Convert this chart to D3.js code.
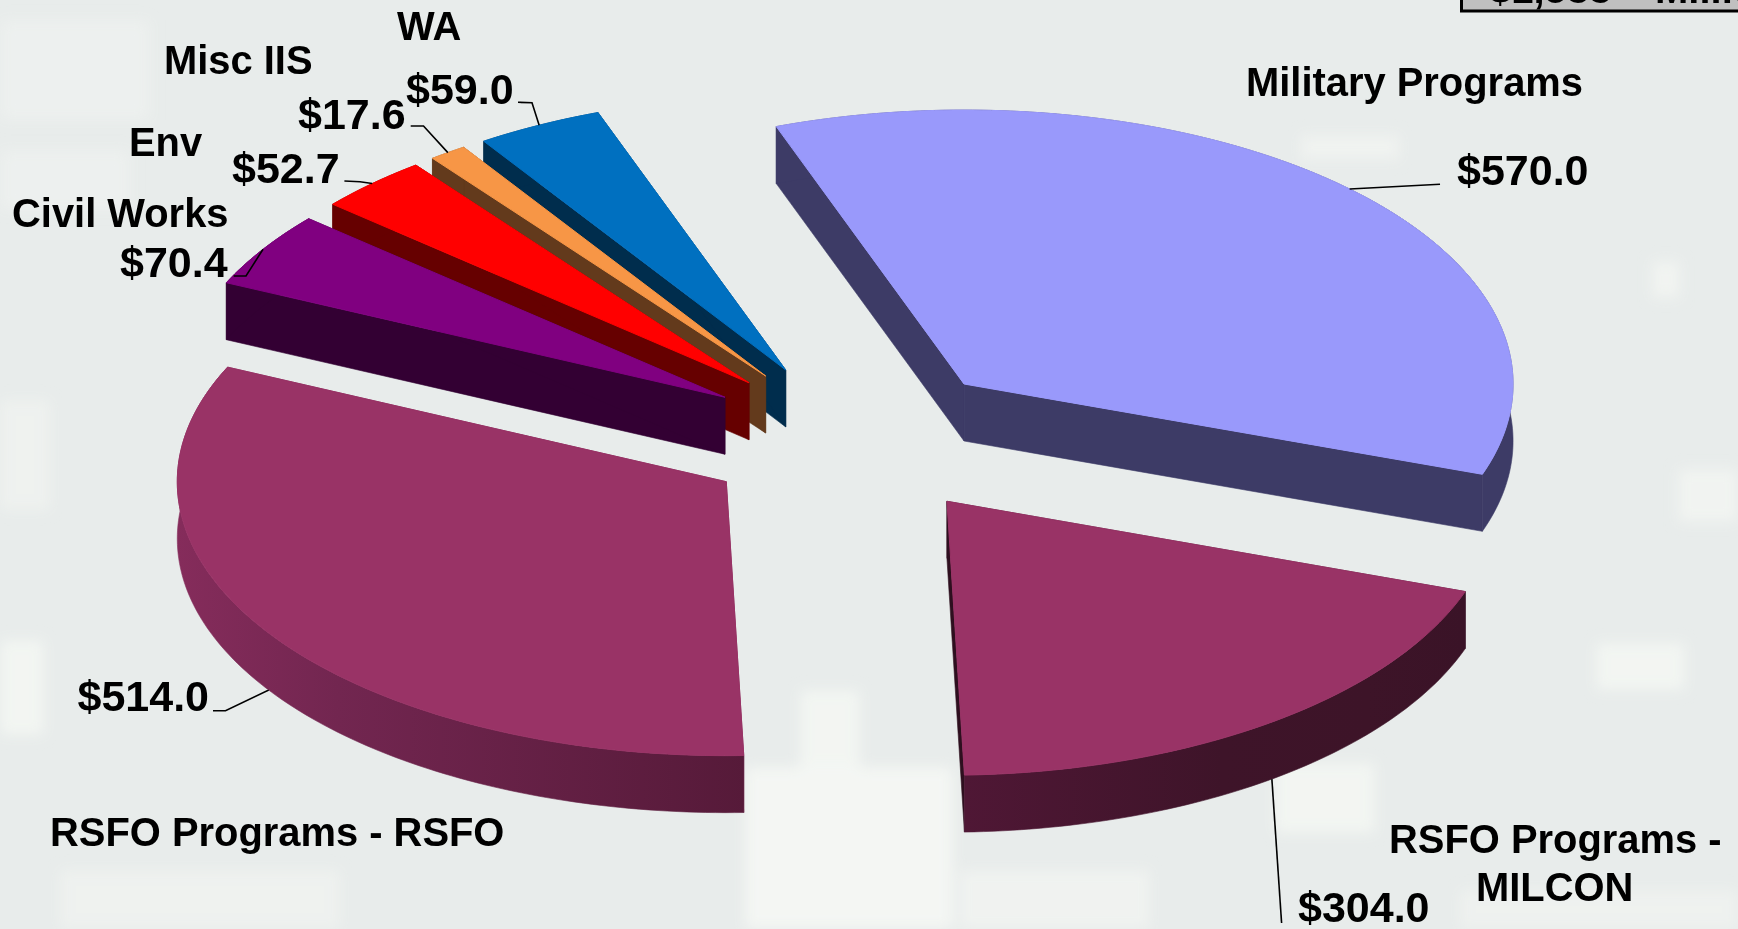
<!DOCTYPE html>
<html>
<head>
<meta charset="utf-8">
<title>Program pie</title>
<script src="https://cdn.jsdelivr.net/npm/d3@7"></script>
<style>
    html, body { margin: 0; padding: 0; background: #e8eceb; overflow: hidden; }
    svg { display: block; }
    text { font-family: "Liberation Sans", Arial, sans-serif; font-weight: bold; fill: #000; }
</style>
</head>
<body>
<svg id="chart" width="1738" height="929"></svg>
<script>
// Chart values, clockwise from the Military slice
const categories = ['Military Programs', 'RSFO Programs - MILCON', 'RSFO Programs - RSFO', 'Civil Works', 'Env', 'Misc IIS', 'WA'];
const values = [570.0, 304.0, 514.0, 70.4, 52.7, 17.6, 59.0];
const valueLabels = ['$570.0', '$304.0', '$514.0', '$70.4', '$52.7', '$17.6', '$59.0'];
const totalLabel = '$1,588';
const totalUnit = 'Million';

const topColors = ['#9999fb', '#993366', '#993366', '#800080', '#ff0000', '#f79646', '#0070c0'];
const sideColors = ['#3d3b66', '#3d1428', '#7f2a56', '#330033', '#660000', '#633a1c', '#002d4d'];

const width = 1738;
const height = 929;

// Pie geometry (ellipse in screen space, each slice pulled out along its middle angle)
const cx = 855.3;
const cy = 439;
const radius = 549;
const tilt = 0.499;
const depth = 57;
const explode = 0.282;
const startDeg = -20;

const svg = d3.select('#chart');

// Background texture, soft light blocks
const patches = [
    [0, 20, 150, 100, 0.45], [0, 640, 44, 95, 0.8], [745, 767, 208, 162, 0.9], [800, 690, 60, 80, 0.8],
    [1275, 763, 100, 70, 0.8], [1596, 643, 89, 47, 0.8], [1652, 261, 28, 37, 0.7], [1678, 469, 60, 53, 0.7],
    [1300, 135, 100, 25, 0.6], [0, 400, 50, 110, 0.5], [60, 870, 280, 59, 0.5], [960, 870, 190, 59, 0.6],
    [1460, 890, 278, 39, 0.5], [0, 150, 130, 60, 0.45]
];
const defs = svg.append('defs');
defs.append('filter').attr('id', 'soft').append('feGaussianBlur').attr('stdDeviation', 7);
svg.append('rect').attr('width', width).attr('height', height).attr('fill', '#e8eceb');
svg.append('g')
    .attr('filter', 'url(#soft)')
    .selectAll('rect')
    .data(patches)
    .join('rect')
    .attr('x', d => d[0])
    .attr('y', d => d[1])
    .attr('width', d => d[2])
    .attr('height', d => d[3])
    .attr('fill', '#f5f7f4')
    .attr('opacity', d => d[4]);

// Clipped box in the top right corner
svg.append('rect')
    .attr('x', 1461.5)
    .attr('y', -10)
    .attr('width', 300)
    .attr('height', 21)
    .attr('fill', '#c0c0c0')
    .attr('stroke', '#000')
    .attr('stroke-width', 3);
svg.append('text').attr('x', 1489).attr('y', 3).style('font-size', '40px').text(totalLabel);
svg.append('text').attr('x', 1655).attr('y', 3).style('font-size', '40px').text(totalUnit);

const xScale = d3.scaleLinear().domain([-1, 1]).range([cx - radius, cx + radius]);
const yScale = d3.scaleLinear().domain([-1, 1]).range([cy - radius * tilt, cy + radius * tilt]);

const pie = d3.pie()
    .sort(null)
    .value(d => d)
    .startAngle(startDeg * Math.PI / 180)
    .endAngle((startDeg + 360) * Math.PI / 180);

const slices = pie(values).map((arc, i) => ({
    ...arc,
    index: i,
    mid: (arc.startAngle + arc.endAngle) / 2
}));

// Position on the top face of a slice, r = 0 is its tip and r = 1 its rim
function project(slice, angle, r) {
    return [
        xScale(explode * Math.sin(slice.mid) + r * Math.sin(angle)),
        yScale(-explode * Math.cos(slice.mid) - r * Math.cos(angle))
    ];
}

function rimAngles(slice) {
    const steps = Math.ceil((slice.endAngle - slice.startAngle) * 180 / Math.PI);
    return d3.range(steps + 1).map(i => slice.startAngle + (slice.endAngle - slice.startAngle) * i / steps);
}

const line = d3.line();
const down = p => [p[0], p[1] + depth];

// Rim shading of the two RSFO slices runs left to right: angle in degrees, colour
const rimShades = {
    1: [[178, '#4f1735'], [150, '#3e1429'], [130, '#3d1428'], [109, '#3a1327']],
    2: [[270, '#852c5b'], [225, '#722650'], [178, '#561a39']]
};

function rimFill(slice) {
    const shades = rimShades[slice.index];
    if (!shades) {
        return sideColors[slice.index];
    }
    const xs = shades.map(d => project(slice, d[0] * Math.PI / 180, 1)[0]);
    const gradient = defs.append('linearGradient')
        .attr('id', `rim${slice.index}`)
        .attr('gradientUnits', 'userSpaceOnUse')
        .attr('x1', xs[0])
        .attr('x2', xs[xs.length - 1])
        .attr('y1', 0)
        .attr('y2', 0);
    shades.forEach((d, i) => {
        gradient.append('stop')
            .attr('offset', (xs[i] - xs[0]) / (xs[xs.length - 1] - xs[0]))
            .attr('stop-color', d[1]);
    });
    return `url(#rim${slice.index})`;
}

function drawSlice(group, slice) {
    const tip = project(slice, 0, 0);
    const rim = rimAngles(slice).map(a => project(slice, a, 1));
    const first = rim[0];
    const last = rim[rim.length - 1];
    const flat = sideColors[slice.index];

    // cut faces, stroked so no pale seam shows where they meet the wall
    const cutColors = slice.index === 1 ? ['#3a1327', '#2e0f1f'] : [flat, flat];
    [first, last].forEach((end, i) => {
        group.append('path')
            .attr('d', line([tip, end, down(end), down(tip)]) + 'Z')
            .attr('fill', cutColors[i])
            .attr('stroke', cutColors[i])
            .attr('stroke-width', 0.6);
    });

    // outer wall
    const fill = rimFill(slice);
    group.append('path')
        .attr('d', line([...rim, ...rim.slice().reverse().map(down)]) + 'Z')
        .attr('fill', fill)
        .attr('stroke', fill)
        .attr('stroke-width', 0.6);

    // top face, its own stroke hides the wall behind the back edge
    group.append('path')
        .attr('d', line([tip, ...rim]) + 'Z')
        .attr('fill', topColors[slice.index])
        .attr('stroke', topColors[slice.index])
        .attr('stroke-width', 1);
}

// Back slices first: the further up the tip, the earlier it is painted
const drawOrder = slices.slice().sort((a, b) => project(a, 0, 0)[1] - project(b, 0, 0)[1]);
const sliceGroup = svg.append('g').attr('class', 'slices');
drawOrder.forEach(slice => drawSlice(sliceGroup.append('g'), slice));

// Leader elbows, from the rim out to the value label
const leaderElbows = [
    [[1440, 184.3]],
    [[1281.6, 923]],
    [[225.5, 710.7], [213, 710.7]],
    [[246, 276], [233.7, 276]],
    [[360, 181.7], [344.4, 181]],
    [[423.5, 126], [410.7, 126]],
    [[532, 102.7], [518, 102.3]]
];

slices.forEach(slice => {
    const onRim = project(slice, slice.mid, 1);
    const start = Math.cos(slice.mid) < 0 ? down(onRim) : onRim;
    svg.append('path')
        .attr('d', line([start, ...leaderElbows[slice.index]]))
        .attr('fill', 'none')
        .attr('stroke', '#000')
        .attr('stroke-width', 1.6);
});

// Label spots [x, y] with anchor start
const categorySpots = [
    [[1246, 96]],
    [[1389, 853], [1476, 901]],
    [[50, 846]],
    [[12, 227]],
    [[129, 156]],
    [[164, 74]],
    [[397, 40]]
];
const categoryLines = [
    ['Military Programs'],
    ['RSFO Programs -', 'MILCON'],
    ['RSFO Programs - RSFO'],
    ['Civil Works'],
    ['Env'],
    ['Misc IIS'],
    ['WA']
];
const valueSpots = [
    [1457, 185], [1298, 922], [77.5, 711], [120, 277], [232, 183], [298, 128.5], [406, 104]
];

categoryLines.forEach((lines, i) => {
    lines.forEach((label, j) => {
        svg.append('text')
            .attr('x', categorySpots[i][j][0])
            .attr('y', categorySpots[i][j][1])
            .style('font-size', '39.9px')
            .text(label);
    });
});

svg.selectAll('text.value')
    .data(valueLabels)
    .join('text')
    .attr('class', 'value')
    .attr('x', (d, i) => valueSpots[i][0])
    .attr('y', (d, i) => valueSpots[i][1])
    .style('font-size', '43px')
    .text(d => d);
</script>
</body>
</html>
